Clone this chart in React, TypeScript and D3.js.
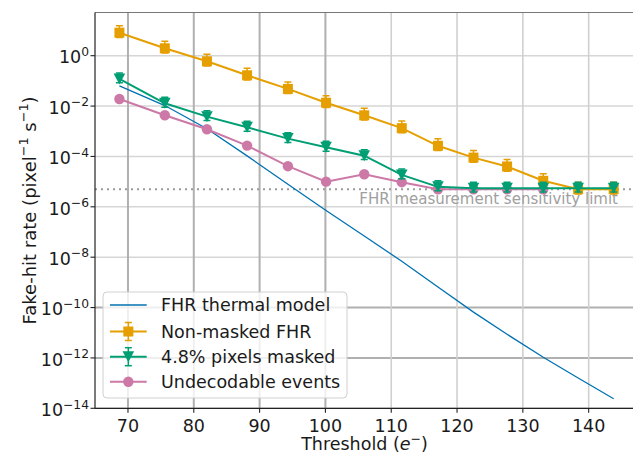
import React from "react";
import * as d3 from "d3";

// Threshold settings (electrons) at which the fake-hit rate was measured
const thresholds = [68.7, 75.6, 82.0, 88.1, 94.3, 100.1, 105.9, 111.6, 117.1, 122.5, 127.6, 133.1, 138.4, 143.8];

// Thermal-noise model prediction (pixel^-1 s^-1)
const thermalModel = [6.3e-2, 1.05e-2, 1.26e-3, 1.05e-4, 7.9e-6, 7.1e-7, 6.9e-8, 6.9e-9, 6.5e-10, 6.6e-11, 8.7e-12, 1.07e-12, 1.6e-13, 2.4e-14];

// Measured fake-hit rate without masking
const nonMasked = [8.2, 1.97, 0.6, 0.167, 0.048, 0.0136, 0.0043, 0.00133, 2.65e-4, 9.0e-5, 4.0e-5, 1.08e-5, 5e-6, 5e-6];
const nonMaskedErrHi = [0.9, 0.9, 0.9, 0.9, 0.9, 0.9, 0.9, 0.9, 0.9, 0.9, 0.9, 0.9, 0.9, 0.9];
const nonMaskedErrLo = [0.35, 0.35, 0.35, 0.35, 0.35, 0.35, 0.35, 0.35, 0.35, 0.35, 0.35, 0.35, 0.35, 0.35];

// Measured fake-hit rate with the noisiest 4.8% of pixels masked
const masked = [0.12, 0.0129, 0.0038, 0.00144, 5.1e-4, 2.3e-4, 1.07e-4, 1.85e-5, 6.2e-6, 5.5e-6, 5.5e-6, 5.5e-6, 5.5e-6, 5.5e-6];
const maskedErrHi = [0.73, 0.73, 0.73, 0.73, 0.73, 0.73, 0.73, 0.73, 0.73, 0.73, 0.73, 0.73, 0.73, 0.73];
const maskedErrLo = [0.3, 0.3, 0.3, 0.3, 0.3, 0.3, 0.3, 0.3, 0.3, 0.3, 0.3, 0.3, 0.3, 0.3];

// Rate of undecodable events (measured up to 133 e-)
const undecodable = [0.019, 0.0043, 0.0012, 2.7e-4, 4.1e-5, 1.0e-5, 1.96e-5, 9.5e-6, 5e-6, 5e-6, 5e-6, 5e-6];

const sensitivityLimit = 5e-6;

const xTicks = [70, 80, 90, 100, 110, 120, 130, 140];
const yTickExponents = [0, -2, -4, -6, -8, -10, -12, -14];

const legendLabels = ["FHR thermal model", "Non-masked FHR", "4.8% pixels masked", "Undecodable events"];

const W = 633;
const H = 453;
const plot = { left: 95, right: 640, top: 12.5, bottom: 408.3 };

const BLUE = "#0072B2";
const ORANGE = "#E69F00";
const GREEN = "#009E73";
const PINK = "#CC79A7";
const INK = "#1a1a1a";
const FONT = "DejaVu Sans, Verdana, sans-serif";

const x = d3.scaleLinear().domain([64.99, 147.8]).range([plot.left, plot.right]);
const y = d3.scaleLog().domain([1e-14, 51.9]).range([plot.bottom, plot.top]);

type Pt = [number, number];
const pts = (vals: number[]): Pt[] => vals.map((v, i) => [thresholds[i], v]);
const line = d3.line<Pt>().x((d) => x(d[0])).y((d) => y(d[1]));

const Square = ({ cx, cy, color }: { cx: number; cy: number; color: string }) => (
  <rect x={cx - 5} y={cy - 5} width={10} height={10} fill={color} />
);
const TriDown = ({ cx, cy, color }: { cx: number; cy: number; color: string }) => (
  <path d={`M${cx - 5.8},${cy - 5.5}L${cx + 5.8},${cy - 5.5}L${cx},${cy + 5.5}Z`} fill={color} />
);
const Dot = ({ cx, cy, color }: { cx: number; cy: number; color: string }) => (
  <circle cx={cx} cy={cy} r={5.2} fill={color} />
);

function ErrorBar({ cx, y1, y2, color }: { cx: number; y1: number; y2: number; color: string }) {
  return (
    <g stroke={color} strokeWidth={1.5}>
      <line x1={cx} x2={cx} y1={y1} y2={y2} />
      <line x1={cx - 3.5} x2={cx + 3.5} y1={y1} y2={y1} />
      <line x1={cx - 3.5} x2={cx + 3.5} y1={y2} y2={y2} />
    </g>
  );
}

function Series({
  vals,
  color,
  marker,
  errHi,
  errLo,
}: {
  vals: number[];
  color: string;
  marker: "square" | "tri" | "dot";
  errHi?: number[];
  errLo?: number[];
}) {
  const data = pts(vals);
  return (
    <g>
      <path d={line(data) || ""} fill="none" stroke={color} strokeWidth={2} />
      {errHi &&
        errLo &&
        data.map((d, i) => (
          <ErrorBar key={"e" + i} cx={x(d[0])} y1={y(d[1] * (1 + errHi[i]))} y2={y(d[1] * (1 - errLo[i]))} color={color} />
        ))}
      {data.map((d, i) => {
        const cx = x(d[0]);
        const cy = y(d[1]);
        if (marker === "square") return <Square key={i} cx={cx} cy={cy} color={color} />;
        if (marker === "tri") return <TriDown key={i} cx={cx} cy={cy} color={color} />;
        return <Dot key={i} cx={cx} cy={cy} color={color} />;
      })}
    </g>
  );
}

export default function App() {
  const darkV = new Set([70, 80, 90, 100]);
  const darkH = new Set([-10, -12]);
  const limitY = y(sensitivityLimit);
  const legend = { x: 103, y: 292, w: 244, h: 106 };
  const rowY = [305, 331.5, 356.7, 381.7];
  const hx1 = 110;
  const hx2 = 146.7;
  const hc = (hx1 + hx2) / 2;

  return (
    <svg
      width={W}
      height={H}
      viewBox={`0 0 ${W} ${H}`}
      style={{ position: "fixed", left: 0, top: 0, background: "#fff" }}
      fontFamily={FONT}
    >
      <defs>
        <clipPath id="plotArea">
          <rect x={plot.left} y={plot.top} width={plot.right - plot.left} height={plot.bottom - plot.top} />
        </clipPath>
      </defs>

      {/* grid */}
      <g>
        {yTickExponents.map((e) => (
          <line
            key={"gh" + e}
            x1={plot.left}
            x2={plot.right}
            y1={y(Math.pow(10, e))}
            y2={y(Math.pow(10, e))}
            stroke={darkH.has(e) ? "#b0b0b0" : "#d6d6d6"}
            strokeWidth={darkH.has(e) ? 2 : 1.6}
          />
        ))}
        {xTicks.map((t) => (
          <line
            key={"gv" + t}
            x1={x(t)}
            x2={x(t)}
            y1={plot.top}
            y2={plot.bottom}
            stroke={darkV.has(t) ? "#b0b0b0" : "#d0d0d0"}
            strokeWidth={darkV.has(t) ? 2 : 1.6}
          />
        ))}
      </g>

      {/* sensitivity limit */}
      <line
        x1={plot.left}
        x2={plot.right}
        y1={limitY}
        y2={limitY}
        stroke="#9a9a9a"
        strokeWidth={2}
        strokeDasharray="2 4"
      />
      <text x={618} y={limitY + 15} textAnchor="end" fontSize={15} fill="#a0a0a0">
        FHR measurement sensitivity limit
      </text>

      <g clipPath="url(#plotArea)">
        <path d={line(pts(thermalModel)) || ""} fill="none" stroke={BLUE} strokeWidth={1.3} />
        <Series vals={undecodable} color={PINK} marker="dot" />
        <Series vals={nonMasked} color={ORANGE} marker="square" errHi={nonMaskedErrHi} errLo={nonMaskedErrLo} />
        <Series vals={masked} color={GREEN} marker="tri" errHi={maskedErrHi} errLo={maskedErrLo} />
      </g>

      {/* spines */}
      <line x1={plot.left} x2={plot.right} y1={plot.top} y2={plot.top} stroke="#777" strokeWidth={1} />
      <line x1={plot.left} x2={plot.left} y1={plot.top} y2={plot.bottom} stroke="#222" strokeWidth={1.2} />
      <line x1={plot.left} x2={plot.right} y1={plot.bottom} y2={plot.bottom} stroke="#222" strokeWidth={1.2} />

      {/* x axis */}
      {xTicks.map((t) => (
        <g key={"xt" + t}>
          <line x1={x(t)} x2={x(t)} y1={plot.bottom} y2={plot.bottom + 4.5} stroke="#222" strokeWidth={1.1} />
          <text x={x(t)} y={plot.bottom + 23.5} textAnchor="middle" fontSize={17.5} fill={INK}>
            {t}
          </text>
        </g>
      ))}
      <text x={(plot.left + plot.right) / 2 - 3} y={450} textAnchor="middle" fontSize={17.5} fill={INK}>
        Threshold (<tspan fontStyle="italic">e</tspan>
        <tspan dy={-7} fontSize={12.5}>−</tspan>
        <tspan dy={7}>)</tspan>
      </text>

      {/* y axis */}
      {yTickExponents.map((e) => {
        const ty = y(Math.pow(10, e));
        return (
          <g key={"yt" + e}>
            <line x1={plot.left - 4.5} x2={plot.left} y1={ty} y2={ty} stroke="#222" strokeWidth={1.1} />
            <text x={89} y={ty + 7.8} textAnchor="end" fontSize={17.5} fill={INK}>
              10
              <tspan dy={-7.5} fontSize={12.3}>
                {e === 0 ? "0" : "−" + Math.abs(e)}
              </tspan>
            </text>
          </g>
        );
      })}
      <text
        transform={`translate(35.5,${(plot.top + plot.bottom) / 2}) rotate(-90)`}
        textAnchor="middle"
        fontSize={18}
        fill={INK}
      >
        Fake-hit rate (pixel
        <tspan dy={-7.5} fontSize={12.8}>−1</tspan>
        <tspan dy={7.5}> s</tspan>
        <tspan dy={-7.5} fontSize={12.8}>−1</tspan>
        <tspan dy={7.5}>)</tspan>
      </text>

      {/* legend */}
      <g>
        <rect
          x={legend.x}
          y={legend.y}
          width={legend.w}
          height={legend.h}
          rx={4}
          fill="#fff"
          fillOpacity={0.8}
          stroke="#d0d0d0"
          strokeWidth={1}
        />
        <line x1={hx1} x2={hx2} y1={rowY[0]} y2={rowY[0]} stroke={BLUE} strokeWidth={1.3} />

        <line x1={hx1} x2={hx2} y1={rowY[1]} y2={rowY[1]} stroke={ORANGE} strokeWidth={2} />
        <ErrorBar cx={hc} y1={rowY[1] - 9} y2={rowY[1] + 9} color={ORANGE} />
        <Square cx={hc} cy={rowY[1]} color={ORANGE} />

        <line x1={hx1} x2={hx2} y1={rowY[2]} y2={rowY[2]} stroke={GREEN} strokeWidth={2} />
        <ErrorBar cx={hc} y1={rowY[2] - 9} y2={rowY[2] + 9} color={GREEN} />
        <TriDown cx={hc} cy={rowY[2]} color={GREEN} />

        <line x1={hx1} x2={hx2} y1={rowY[3]} y2={rowY[3]} stroke={PINK} strokeWidth={2} />
        <Dot cx={hc} cy={rowY[3]} color={PINK} />

        {legendLabels.map((s, i) => (
          <text key={s} x={161} y={rowY[i] + 6.3} fontSize={17.5} fill={INK}>
            {s}
          </text>
        ))}
      </g>
    </svg>
  );
}
